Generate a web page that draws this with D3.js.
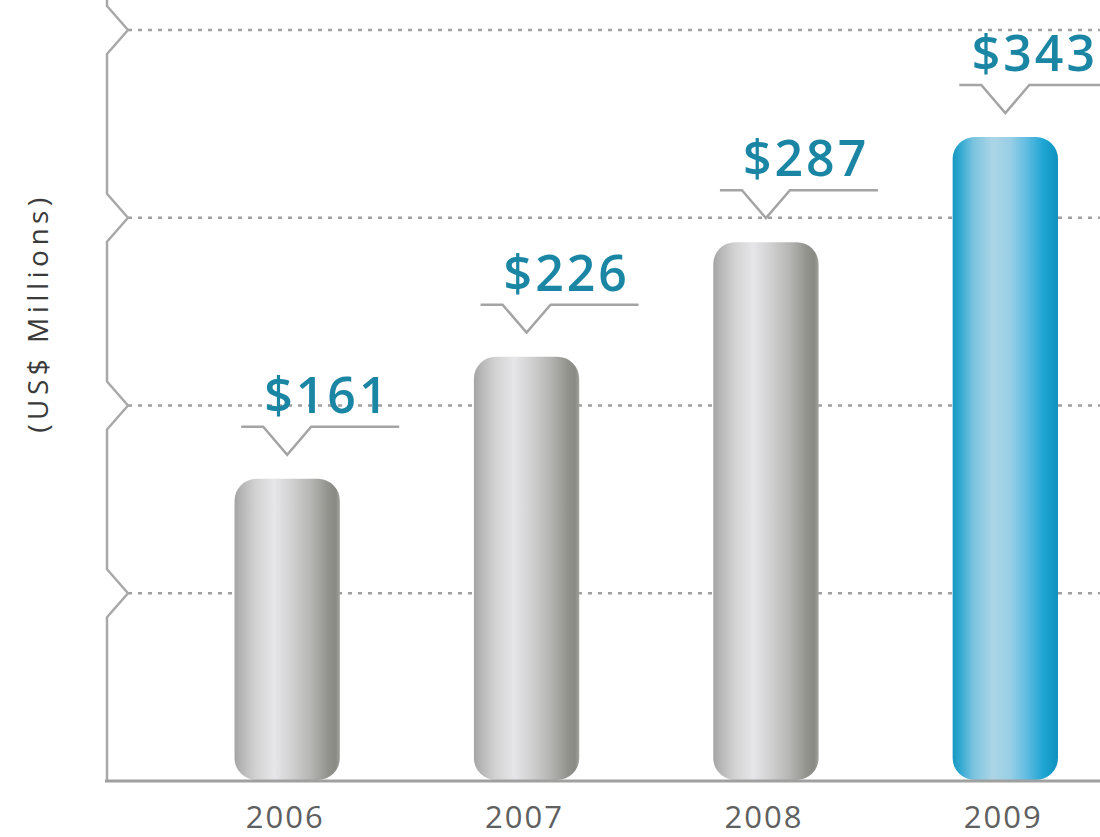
<!DOCTYPE html>
<html>
<head>
<meta charset="utf-8">
<script src="https://cdn.jsdelivr.net/npm/d3@7"></script>
<style>
  html, body { margin: 0; padding: 0; background: #fff; }
  svg { display: block; }
</style>
</head>
<body>
<div id="chart"></div>
<script>
// data
const years = ["2006", "2007", "2008", "2009"];
const revenue = [161, 226, 287, 343];
const valueLabels = ["$161", "$226", "$287", "$343"];
const gridTicks = [100, 200, 300, 400];
const axisTitle = "(US$ Millions)";

const width = 1100, height = 837;
const axisX = 107, baseY = 781;

const svg = d3.select("#chart").append("svg")
  .attr("width", width)
  .attr("height", height);

// scales
const x = d3.scaleBand()
  .domain(years)
  .range([167.5, 1125])
  .paddingInner(0.56)
  .paddingOuter(0.28);

const y = d3.scaleLinear()
  .domain([0, 400])
  .range([baseY, 30]);

// gradients for the bars
const defs = svg.append("defs");
function addGradient(id, stops) {
  const g = defs.append("linearGradient")
    .attr("id", id)
    .attr("x1", "0%").attr("x2", "100%")
    .attr("y1", "0%").attr("y2", "0%");
  g.selectAll("stop")
    .data(stops)
    .join("stop")
    .attr("offset", d => d[0])
    .attr("stop-color", d => d[1]);
}
addGradient("grayBar", [
  ["0%", "#a4a4a4"], ["6%", "#b4b4b4"], ["20%", "#d2d2d3"], ["38%", "#e6e6e8"],
  ["55%", "#d0d0d1"], ["72%", "#b6b6b4"], ["88%", "#94948f"], ["96%", "#8a8a85"], ["100%", "#a2a29e"]
]);
addGradient("blueBar", [
  ["0%", "#1797c0"], ["7%", "#2fa8d0"], ["20%", "#7cc4e0"], ["38%", "#acd6e6"],
  ["55%", "#98cee6"], ["70%", "#62bce2"], ["86%", "#1fa6d3"], ["100%", "#0e90bd"]
]);

// dotted gridlines
svg.append("g")
  .selectAll("line")
  .data(gridTicks)
  .join("line")
  .attr("x1", axisX + 21)
  .attr("x2", width)
  .attr("y1", d => y(d))
  .attr("y2", d => y(d))
  .attr("stroke", "#a0a0a0")
  .attr("stroke-width", 2.5)
  .attr("stroke-dasharray", "4,6");

// vertical axis with chevrons at each tick
const ticksDown = gridTicks.slice().sort((a, b) => b - a);
const axisPts = [[axisX, 0]];
ticksDown.forEach(t => {
  const ty = y(t);
  axisPts.push([axisX, ty - 24], [axisX + 21, ty], [axisX, ty + 24]);
});
axisPts.push([axisX, baseY]);

svg.append("path")
  .attr("d", d3.line()(axisPts))
  .attr("fill", "none")
  .attr("stroke", "#a8a8a8")
  .attr("stroke-width", 2.5)
  .attr("stroke-linejoin", "round");

// bars
const bars = years.map((yr, i) => ({ year: yr, value: revenue[i], label: valueLabels[i], last: i === years.length - 1 }));

svg.append("g")
  .selectAll("rect")
  .data(bars)
  .join("rect")
  .attr("x", d => x(d.year))
  .attr("y", d => y(d.value))
  .attr("width", x.bandwidth())
  .attr("height", d => baseY - y(d.value) - 1)
  .attr("rx", 22)
  .attr("ry", 22)
  .attr("fill", d => d.last ? "url(#blueBar)" : "url(#grayBar)");

// baseline
svg.append("line")
  .attr("x1", axisX - 2)
  .attr("x2", width)
  .attr("y1", baseY)
  .attr("y2", baseY)
  .attr("stroke", "#a0a0a0")
  .attr("stroke-width", 3);

// callouts: line with a V notch pointing to the bar
const callout = svg.append("g");
bars.forEach(d => {
  const cx = x(d.year) + x.bandwidth() / 2;
  const ly = y(d.value) - 52;
  const pts = [[cx - 46, ly], [cx - 24, ly], [cx, ly + 28], [cx + 24, ly], [cx + 112, ly]];
  callout.append("path")
    .attr("d", d3.line()(pts))
    .attr("fill", "none")
    .attr("stroke", "#a4a4a4")
    .attr("stroke-width", 2.5);

  const label = callout.append("text")
    .attr("x", cx - 23)
    .attr("y", ly - 14)
    .attr("font-family", "'Open Sans', sans-serif")
    .attr("font-weight", 600)
    .attr("font-size", 50)
    .attr("letter-spacing", 3)
    .attr("fill", "#1b86a4")
    .text(d.label);

  // keep the last label inside the page
  const w = label.node().getComputedTextLength();
  if (cx - 23 + w > width - 2) label.attr("x", width - 2 - w);
});

// year labels
svg.append("g")
  .selectAll("text")
  .data(years)
  .join("text")
  .attr("x", d => x(d) + x.bandwidth() / 2 - 2)
  .attr("y", 828)
  .attr("text-anchor", "middle")
  .attr("font-family", "'Open Sans', sans-serif")
  .attr("font-size", 31)
  .attr("letter-spacing", 2)
  .attr("fill", "#606060")
  .text(d => d);

// axis title
svg.append("text")
  .attr("transform", "translate(48, 313) rotate(-90)")
  .attr("text-anchor", "middle")
  .attr("font-family", "'Open Sans', sans-serif")
  .attr("font-size", 28)
  .attr("letter-spacing", 4.5)
  .attr("fill", "#3a3a3a")
  .text(axisTitle);
</script>
</body>
</html>
